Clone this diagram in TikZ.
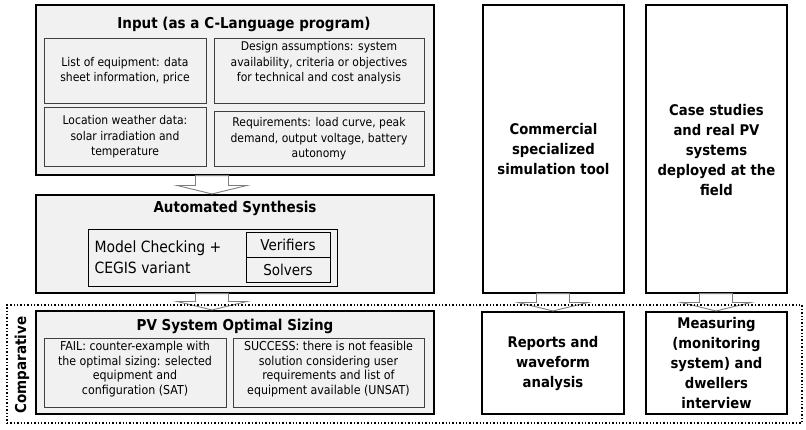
\documentclass[tikz,border=0pt]{standalone}
\usepackage{fontspec}
\setmainfont{DejaVu Sans Condensed}
\usetikzlibrary{calc,fit}
\definecolor{panel}{HTML}{F1F1F1}
\definecolor{inner}{HTML}{404040}
\definecolor{arrowline}{HTML}{7F7F7F}
\begin{document}
\begin{tikzpicture}[x=1pt,y=-1pt,
  outerbox/.style={draw=black,line width=1.1pt,fill=panel,inner sep=0pt},
  whitebox/.style={draw=black,line width=1.1pt,fill=white,inner sep=0pt},
  innerbox/.style={draw=inner,line width=0.9pt,inner sep=0pt},
  title/.style={font=\fontsize{15}{17}\selectfont\bfseries,align=center},
  body/.style={font=\fontsize{12}{15.5}\selectfont,align=center},
  mid/.style={font=\fontsize{15.5}{21}\selectfont,align=left},
  side/.style={font=\fontsize{14.7}{20}\selectfont\bfseries,align=center},
  arrowbody/.style={draw=arrowline,fill=white,line width=0.9pt,line join=miter}]
\useasboundingbox (0,0) rectangle (806,429);

% block arrow from the bottom of one box to the top of the next, at a given x
\newcommand\blockarr[3]{%
  \path let \p1=(#1.south), \p2=(#2.north) in
    [arrowbody] (#3pt-16.5pt,\y1) -- (#3pt+16.5pt,\y1) -- (#3pt+16.5pt,\y2+9pt)
    -- (#3pt+35pt,\y2+9pt) -- (#3pt,\y2+0.5pt) -- (#3pt-35pt,\y2+9pt)
    -- (#3pt-16.5pt,\y2+9pt) -- cycle;}

% ---- Input panel
\node[outerbox,fit={(36,5) (434,175)}] (input) {};
\node[title] (inputT) at (244,24) {Input (as a C-Language program)};
\node[innerbox,fit={(44,38) (206,103)}] (equip) {};
\node[body] at (equip.center) {List of equipment: data\\sheet information, price};
\node[innerbox,fit={(214,38) (424,103)}] (design) {};
\node[body] at (319,63) {Design assumptions: system\\availability, criteria or objectives\\for technical and cost analysis};
\node[innerbox,fit={(44,107) (206,166)}] (weather) {};
\node[body] at (125,137) {Location weather data:\\solar irradiation and\\temperature};
\node[innerbox,fit={(214,111) (424,166)}] (req) {};
\node[body] at (319,139) {Requirements: load curve, peak\\demand, output voltage, battery\\autonomy};

% ---- Automated synthesis panel
\node[outerbox,fit={(36,195) (434,293)}] (synth) {};
\node[title] at (235,208) {Automated Synthesis};
\node[draw=black,line width=0.9pt,inner sep=0pt,fit={(88,229) (337,286)}] (mc) {};
\node[mid,anchor=west] at (91,257) {Model Checking +\\CEGIS variant};
\node[draw=black,line width=0.9pt,inner sep=0pt,fit={(246,232) (330,257)}] (verif) {};
\node[draw=black,line width=0.9pt,inner sep=0pt,fit={(246,257) (330,282)}] (solv) {};
\node[font=\fontsize{15}{17}\selectfont] at (verif.center) {Verifiers};
\node[font=\fontsize{15}{17}\selectfont] at (solv.center) {Solvers};

% ---- PV system optimal sizing panel
\node[outerbox,fit={(36,311) (434,414)}] (pv) {};
\node[title] at (235,326) {PV System Optimal Sizing};
\node[innerbox,fit={(44,338) (226,407)}] (fail) {};
\node[body,font=\fontsize{12.3}{14.7}\selectfont] at (135,369) {FAIL: counter-example with\\the optimal sizing: selected\\equipment and\\configuration (SAT)};
\node[innerbox,fit={(233,338) (424,407)}] (succ) {};
\node[body,font=\fontsize{12.3}{14.7}\selectfont] at (328.5,369) {SUCCESS: there is not feasible\\solution considering user\\requirements and list of\\equipment available (UNSAT)};

% ---- Right-hand columns
\node[whitebox,fit={(483,5) (624,293)}] (sim) {};
\node[side] at (553.5,149) {Commercial\\specialized\\simulation tool};
\node[whitebox,fit={(646,5) (787,293)}] (field) {};
\node[side] at (716.5,150) {Case studies\\and real PV\\systems\\deployed at the\\field};
\node[whitebox,fit={(482,312) (624,414)}] (reports) {};
\node[side] at (553,363) {Reports and\\waveform\\analysis};
\node[whitebox,fit={(646,312) (787,414)}] (measure) {};
\node[side] at (716.5,363) {Measuring\\(monitoring\\system) and\\dwellers\\interview};

% ---- Block arrows
\blockarr{input}{synth}{212}
\blockarr{synth}{pv}{212}
\blockarr{sim}{reports}{553}
\blockarr{field}{measure}{716}

% ---- Comparison frame
\node[draw=black,line width=1.4pt,dotted,inner sep=0pt,fit={(7,305) (802,423)}] (comp) {};
\node[font=\fontsize{15}{17}\selectfont\bfseries,rotate=90] at (22,365) {Comparative};
\end{tikzpicture}
\end{document}
